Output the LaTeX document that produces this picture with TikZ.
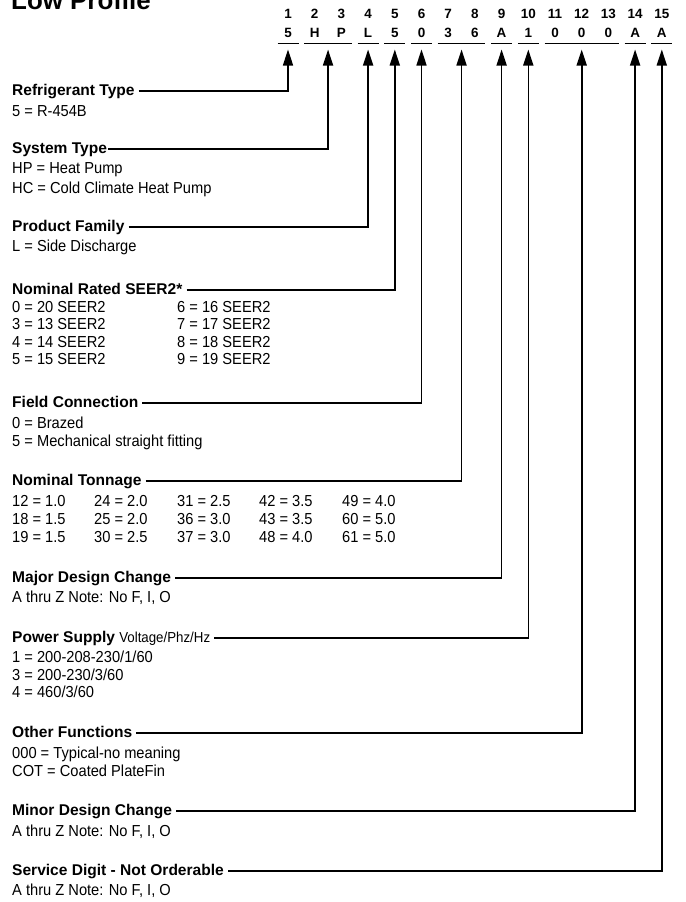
\documentclass[tikz,border=0pt]{standalone}
\usepackage{fontspec}
\setmainfont{Liberation Sans}
\newfontfamily\condfont[FakeStretch=0.92]{Liberation Sans}
\usetikzlibrary{arrows.meta}
\begin{document}
\begin{tikzpicture}[x=1bp,y=-1bp,
  hdr/.style={anchor=west, inner sep=0pt, font=\fontsize{15.6}{18}\selectfont\bfseries, text height=11bp, text depth=3bp},
  body/.style={anchor=base west, inner sep=0pt, font=\condfont\fontsize{16}{18}\selectfont},
  colnum/.style={inner sep=0pt, font=\fontsize{13.5}{15}\selectfont\bfseries},
  codeltr/.style={inner sep=0pt, font=\fontsize{13.5}{15}\selectfont\bfseries},
  uline/.style={line width=1.2bp},
  conn/.style={line width=1.6bp, -{Triangle[length=16bp,width=10bp]}},
]
\useasboundingbox (0,0) rectangle (686,902);
\fill[white] (0,0) rectangle (686,902);
\clip (0,0) rectangle (686,902);

\node[anchor=base west, inner sep=0pt, font=\fontsize{26}{30}\selectfont\bfseries] (title) at (11,9) {Low Profile};

% column numbers and code letters
\foreach \i/\t in {1/5,2/H,3/P,4/L,5/5,6/0,7/3,8/6,9/A,10/1,11/0,12/0,13/0,14/A,15/A} {
  \pgfmathsetmacro\xx{288+(\i-1)*26.7}
  \node[colnum] (n\i) at (\xx,13.5) {\i};
  \node[codeltr] (c\i) at (\xx,32.5) {\t};
}
% underline segments and arrow tips
\foreach \a/\b in {1/1,2/3,4/4,5/5,6/6,7/8,9/9,10/10,11/13,14/14,15/15} {
  \pgfmathsetmacro\xa{288+(\a-1)*26.7-10.5}
  \pgfmathsetmacro\xb{288+(\b-1)*26.7+10.5}
  \pgfmathsetmacro\xm{(\xa+\xb)/2}
  \coordinate (sl\a) at (\xa,43.5);
  \coordinate (sr\a) at (\xb,43.5);
  \coordinate (t\a) at (\xm,49.5);
  \draw[uline] (sl\a) -- (sr\a);
}

% headers
\node[hdr] (h1) at (12,91) {Refrigerant Type};
\node[hdr] (h2) at (12,149) {System Type};
\node[hdr] (h4) at (12,227) {Product Family};
\node[hdr] (h5) at (12,290) {Nominal Rated SEER2*};
\node[hdr] (h6) at (12,403) {Field Connection};
\node[hdr] (h7) at (12,481) {Nominal Tonnage};
\node[hdr] (h9) at (12,578) {Major Design Change};
\node[hdr] (h10) at (12,638) {Power Supply {\condfont\mdseries\fontsize{14.5}{18}\selectfont Voltage/Phz/Hz}};
\node[hdr] (h11) at (12,733) {Other Functions};
\node[hdr] (h14) at (12,811) {Minor Design Change};
\node[hdr] (h15) at (12,871) {Service Digit - Not Orderable};

% connectors
\draw[conn] ([xshift=4bp]h1.east) -| (t1);
\draw[conn] ([xshift=1bp]h2.east) -| (t2);
\draw[conn] ([xshift=4bp]h4.east) -| (t4);
\draw[conn] ([xshift=4bp]h5.east) -| (t5);
\draw[conn] ([xshift=4bp]h6.east) -| (t6);
\draw[conn] ([xshift=4bp]h7.east) -| (t7);
\draw[conn] ([xshift=4bp]h9.east) -| (t9);
\draw[conn] ([xshift=4bp]h10.east) -| (t10);
\draw[conn] ([xshift=4bp]h11.east) -| (t11);
\draw[conn] ([xshift=4bp]h14.east) -| (t14);
\draw[conn] ([xshift=4bp]h15.east) -| (t15);

% body text
\node[body] (b1) at (12,116) {5 = R-454B};
\node[body] (b2a) at (12,173) {HP = Heat Pump};
\node[body] (b2b) at (12,193) {HC = Cold Climate Heat Pump};
\node[body] (b4) at (12,251) {L = Side Discharge};
\node[body] (b5a) at (12,312) {0 = 20 SEER2};
\node[body] (b5b) at (12,329.5) {3 = 13 SEER2};
\node[body] (b5c) at (12,347) {4 = 14 SEER2};
\node[body] (b5d) at (12,364.5) {5 = 15 SEER2};
\node[body] (b5e) at (177,312) {6 = 16 SEER2};
\node[body] (b5f) at (177,329.5) {7 = 17 SEER2};
\node[body] (b5g) at (177,347) {8 = 18 SEER2};
\node[body] (b5h) at (177,364.5) {9 = 19 SEER2};
\node[body] (b6a) at (12,428) {0 = Brazed};
\node[body] (b6b) at (12,446) {5 = Mechanical straight fitting};
\node[body] (t11a) at (12,506) {12 = 1.0};
\node[body] (t12a) at (12,524) {18 = 1.5};
\node[body] (t13a) at (12,542) {19 = 1.5};
\node[body] (t21a) at (94,506) {24 = 2.0};
\node[body] (t22a) at (94,524) {25 = 2.0};
\node[body] (t23a) at (94,542) {30 = 2.5};
\node[body] (t31a) at (177,506) {31 = 2.5};
\node[body] (t32a) at (177,524) {36 = 3.0};
\node[body] (t33a) at (177,542) {37 = 3.0};
\node[body] (t41a) at (259,506) {42 = 3.5};
\node[body] (t42a) at (259,524) {43 = 3.5};
\node[body] (t43a) at (259,542) {48 = 4.0};
\node[body] (t51a) at (342,506) {49 = 4.0};
\node[body] (t52a) at (342,524) {60 = 5.0};
\node[body] (t53a) at (342,542) {61 = 5.0};
\node[body] (b9) at (12,602) {A thru Z Note: No F, I, O};
\node[body] (b10a) at (12,662) {1 = 200-208-230/1/60};
\node[body] (b10b) at (12,680) {3 = 200-230/3/60};
\node[body] (b10c) at (12,697.5) {4 = 460/3/60};
\node[body] (b11a) at (12,758) {000 = Typical-no meaning};
\node[body] (b11b) at (12,776) {COT = Coated PlateFin};
\node[body] (b14) at (12,836) {A thru Z Note: No F, I, O};
\node[body] (b15) at (12,895) {A thru Z Note: No F, I, O};
\end{tikzpicture}
\end{document}
